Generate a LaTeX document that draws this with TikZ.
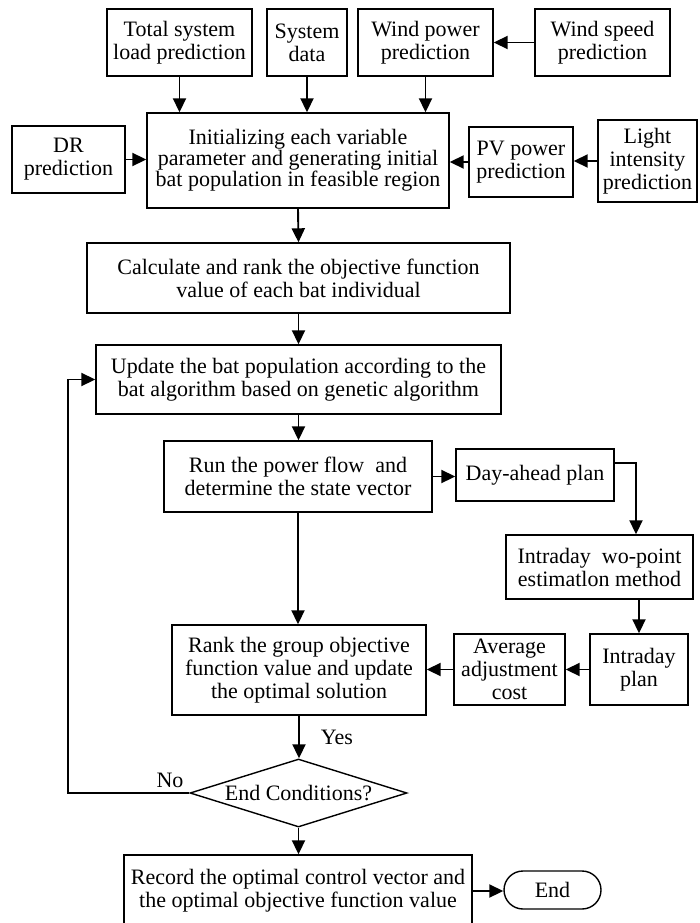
\documentclass[tikz,border=0pt]{standalone}
\usepackage{fontspec}
\setmainfont{Liberation Serif}
\usetikzlibrary{arrows.meta,shapes.geometric}
\tikzset{
  box/.style={draw,line width=1.4pt,inner sep=0pt,align=center,font=\fontsize{22}{23}\selectfont},
  arr/.style={line width=1.9pt,-{Triangle[length=14pt,width=13pt]}},
  lbl/.style={inner sep=0pt,font=\fontsize{22}{23}\selectfont}
}
\begin{document}
\begin{tikzpicture}[x=1pt,y=-1pt]
\useasboundingbox (0,0) rectangle (699,923);
% prediction inputs
\node[box,minimum width=145pt,minimum height=67pt] (load) at (179.5,42.5) {Total system\\load prediction};
\node[box,minimum width=80pt,minimum height=67pt] (sysd) at (307,42.5) {System\\data};
\node[box,minimum width=135pt,minimum height=67pt] (wpow) at (425.5,42.5) {Wind power\\prediction};
\node[box,minimum width=135pt,minimum height=67pt] (wspd) at (602.5,42.5) {Wind speed\\prediction};
\node[box,minimum width=113pt,minimum height=67pt] (dr) at (68.5,159.5) {DR\\prediction};
\node[box,minimum width=104pt,minimum height=70pt] (pv) at (521,162) {PV power\\prediction};
\node[box,minimum width=99pt,minimum height=82pt] (light) at (647.5,161) {Light\\intensity\\prediction};
% main flow
\node[box,font=\fontsize{22}{20}\selectfont,minimum width=302pt,minimum height=95pt] (init) at (298,160.5) {Initializing each variable\\parameter and generating initial\\bat population in feasible region};
\node[box,minimum width=423pt,minimum height=70pt] (calc) at (298.5,278) {Calculate and rank the objective function\\value of each bat individual};
\node[box,minimum width=405pt,minimum height=69pt] (upd) at (298.5,379.5) {Update the bat population according to the\\bat algorithm based on genetic algorithm};
\node[box,minimum width=268pt,minimum height=71pt] (run) at (298,476.5) {Run the power flow~ and\\determine the state vector};
\node[box,minimum width=158pt,minimum height=52pt] (day) at (535,475) {Day-ahead plan};
\node[box,minimum width=187pt,minimum height=64pt] (twopt) at (599.5,567) {Intraday~ wo-point\\estimatlon method};
\node[box,minimum width=98pt,minimum height=71pt] (iplan) at (639,669.5) {Intraday\\plan};
\node[box,minimum width=111pt,minimum height=71pt] (avg) at (509.5,669.5) {Average\\adjustment\\cost};
\node[box,minimum width=254pt,minimum height=90pt] (rank) at (299,670) {Rank the group objective\\function value and update\\the optimal solution};
\node[box,diamond,minimum width=217pt,minimum height=68pt,label={[lbl]center:End Conditions?}] (cond) at (298.5,793) {};
\node[box,minimum width=348pt,minimum height=72pt] (rec) at (298,891) {Record the optimal control vector and\\the optimal objective function value};
\node[box,rounded corners=19pt,minimum width=97pt,minimum height=38pt] (endn) at (552.5,890) {End};
\node[lbl] (yes) at (337,737) {Yes};
\node[lbl] (no) at (170,780) {No};
\coordinate (loopc) at (68,793);
% connectors
\draw[arr] (load.south) -- (load.south |- init.north);
\draw[arr] (sysd.south) -- (sysd.south |- init.north);
\draw[arr] (wpow.south) -- (wpow.south |- init.north);
\draw[arr] (wspd.west) -- (wpow.east);
\draw[arr] (dr.east) -- (dr.east -| init.west);
\draw[arr] (pv.west) -- (pv.west -| init.east);
\draw[arr] (light.west) -- (light.west -| pv.east);
\draw[arr] (init.south) -- (calc.north);
\draw[arr] (calc.south) -- (calc.south |- upd.north);
\draw[arr] (upd.south) -- (upd.south |- run.north);
\draw[arr] (run.east) -- (run.east -| day.west);
\draw[arr] ([yshift=12pt]day.east) -| ([xshift=36.5pt]twopt.north);
\draw[arr] (iplan.north |- twopt.south) -- (iplan.north);
\draw[arr] (iplan.west) -- (avg.east);
\draw[arr] (avg.west) -- (avg.west -| rank.east);
\draw[arr] (run.south) -- (run.south |- rank.north);
\draw[arr] (rank.south) -- (rank.south |- cond.north);
\draw[arr] (cond.west) -- (loopc) |- (upd.west);
\draw[arr] (cond.south) -- (cond.south |- rec.north);
\draw[arr] (rec.east) -- (rec.east -| endn.west);
\end{tikzpicture}
\end{document}
